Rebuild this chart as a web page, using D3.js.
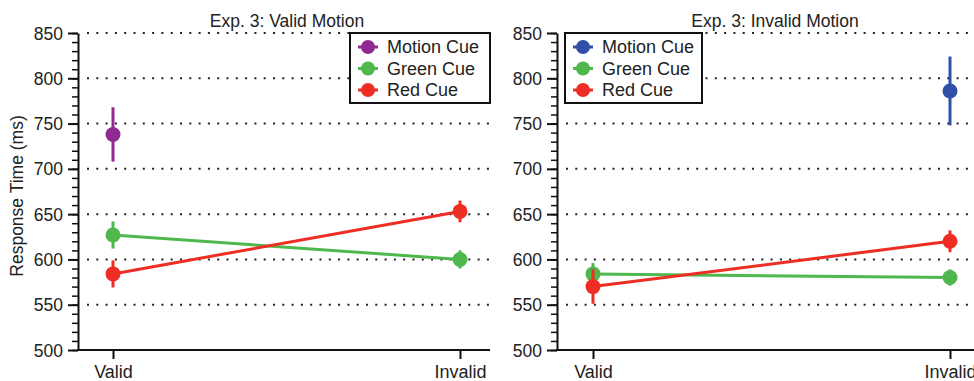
<!DOCTYPE html>
<html>
<head>
<meta charset="utf-8">
<script src="https://cdn.jsdelivr.net/npm/d3@7"></script>
<style>
  body { margin: 0; background: #fff; }
  svg { font-family: "Liberation Sans", Arial, sans-serif; }
</style>
</head>
<body>
<svg id="chart" width="974" height="381"></svg>
<script>
// conditions on the x axis
var conditions = ["Valid", "Invalid"];
var seriesNames = ["Motion Cue", "Green Cue", "Red Cue"];
var yTicks = [500, 550, 600, 650, 700, 750, 800, 850];

// Exp. 3: Valid Motion
var validMotion = [738, null];
var validMotionErr = [30, null];
var validGreen = [627, 600];
var validGreenErr = [15, 10];
var validRed = [584, 653];
var validRedErr = [15, 12];

// Exp. 3: Invalid Motion
var invalidMotion = [null, 786];
var invalidMotionErr = [null, 38];
var invalidGreen = [584, 580];
var invalidGreenErr = [12, 9];
var invalidRed = [570, 620];
var invalidRedErr = [19, 12];

var svg = d3.select("#chart");

var panels = [{
  title: "Exp. 3: Valid Motion",
  axisX: 78, right: 490, xValid: 113, xInvalid: 460,
  legendX: 350, legendW: 140, motionColour: "#8e2a91",
  series: [[validMotion, validMotionErr], [validGreen, validGreenErr], [validRed, validRedErr]],
  ylabel: true
}, {
  title: "Exp. 3: Invalid Motion",
  axisX: 557, right: 987, xValid: 593, xInvalid: 950,
  legendX: 565, legendW: 137, motionColour: "#2f4fa8",
  series: [[invalidMotion, invalidMotionErr], [invalidGreen, invalidGreenErr], [invalidRed, invalidRedErr]],
  ylabel: false
}];

var plotTop = 33, plotBottom = 350;

panels.forEach(function(p) {
  var colours = [p.motionColour, "#4fb84c", "#ee2e24"];

  var x = d3.scalePoint().domain(conditions).range([p.xValid, p.xInvalid]);
  var y = d3.scaleLinear().domain([500, 850]).range([plotBottom, plotTop]);

  var g = svg.append("g");

  // dotted grid lines
  g.selectAll(".grid")
    .data(yTicks.filter(function(t) { return t > 500; }))
    .enter().append("line")
    .attr("x1", p.axisX + 9).attr("x2", p.right)
    .attr("y1", function(d) { return y(d); })
    .attr("y2", function(d) { return y(d); })
    .attr("stroke", "#222")
    .attr("stroke-width", 2)
    .attr("stroke-dasharray", "2,7.3");

  // minor y ticks
  var minor = g.append("g")
    .attr("transform", "translate(" + p.axisX + ",0)")
    .call(d3.axisLeft(y).tickValues(d3.range(500, 851, 10)).tickSize(6).tickFormat(""));
  minor.select(".domain").remove();
  minor.selectAll("line").attr("stroke", "#111").attr("stroke-width", 1.5);

  // major y axis
  var yAxis = g.append("g")
    .attr("transform", "translate(" + p.axisX + ",0)")
    .call(d3.axisLeft(y).tickValues(yTicks).tickSize(10).tickSizeOuter(0));
  yAxis.select(".domain").attr("stroke", "#111").attr("stroke-width", 2);
  yAxis.selectAll(".tick line").attr("stroke", "#111").attr("stroke-width", 2);
  yAxis.selectAll("text")
    .attr("font-size", 17.5).attr("fill", "#222")
    .attr("font-family", "Liberation Sans, Arial, sans-serif")
    .attr("x", -15).attr("dy", "0.35em");

  // x axis
  g.append("line")
    .attr("x1", p.axisX - 1).attr("x2", p.right)
    .attr("y1", plotBottom).attr("y2", plotBottom)
    .attr("stroke", "#111").attr("stroke-width", 2);
  var xAxis = g.append("g")
    .attr("transform", "translate(0," + plotBottom + ")")
    .call(d3.axisBottom(x).tickSize(9).tickSizeOuter(0));
  xAxis.select(".domain").remove();
  xAxis.selectAll(".tick line").attr("stroke", "#111").attr("stroke-width", 2);
  xAxis.selectAll("text")
    .attr("font-size", 18).attr("fill", "#222")
    .attr("font-family", "Liberation Sans, Arial, sans-serif")
    .attr("y", 15);

  // title
  g.append("text")
    .attr("x", (p.axisX + p.right) / 2 + 3)
    .attr("y", 26.5)
    .attr("text-anchor", "middle")
    .attr("font-size", 17.5)
    .attr("fill", "#222")
    .text(p.title);

  if (p.ylabel) {
    g.append("text")
      .attr("transform", "translate(23,196) rotate(-90)")
      .attr("text-anchor", "middle")
      .attr("font-size", 17.5)
      .attr("fill", "#222")
      .text("Response Time (ms)");
  }

  // series: lines, error bars, markers
  p.series.forEach(function(s, i) {
    var pts = conditions.map(function(c, j) {
      return { c: c, v: s[0][j], e: s[1][j] };
    }).filter(function(d) { return d.v != null; });

    var line = d3.line()
      .x(function(d) { return x(d.c); })
      .y(function(d) { return y(d.v); });

    var sg = g.append("g");
    if (pts.length > 1) {
      sg.append("path")
        .attr("d", line(pts))
        .attr("fill", "none")
        .attr("stroke", colours[i])
        .attr("stroke-width", 3);
    }
    sg.selectAll(".err").data(pts).enter().append("line")
      .attr("x1", function(d) { return x(d.c); })
      .attr("x2", function(d) { return x(d.c); })
      .attr("y1", function(d) { return y(d.v + d.e); })
      .attr("y2", function(d) { return y(d.v - d.e); })
      .attr("stroke", colours[i])
      .attr("stroke-width", 3);
    sg.selectAll(".dot").data(pts).enter().append("circle")
      .attr("cx", function(d) { return x(d.c); })
      .attr("cy", function(d) { return y(d.v); })
      .attr("r", 7.5)
      .attr("fill", colours[i]);
  });

  // legend
  var lg = g.append("g");
  lg.append("rect")
    .attr("x", p.legendX).attr("y", 33)
    .attr("width", p.legendW).attr("height", 70)
    .attr("fill", "#fff")
    .attr("stroke", "#111").attr("stroke-width", 2);
  seriesNames.forEach(function(name, i) {
    var ly = 47 + i * 21.5;
    lg.append("line")
      .attr("x1", p.legendX + 8).attr("x2", p.legendX + 28)
      .attr("y1", ly).attr("y2", ly)
      .attr("stroke", colours[i]).attr("stroke-width", 3);
    lg.append("circle")
      .attr("cx", p.legendX + 18).attr("cy", ly).attr("r", 7)
      .attr("fill", colours[i]);
    lg.append("text")
      .attr("x", p.legendX + 37).attr("y", ly)
      .attr("dy", "0.35em")
      .attr("font-size", 18)
      .attr("fill", "#222")
      .text(name);
  });
});
</script>
</body>
</html>
